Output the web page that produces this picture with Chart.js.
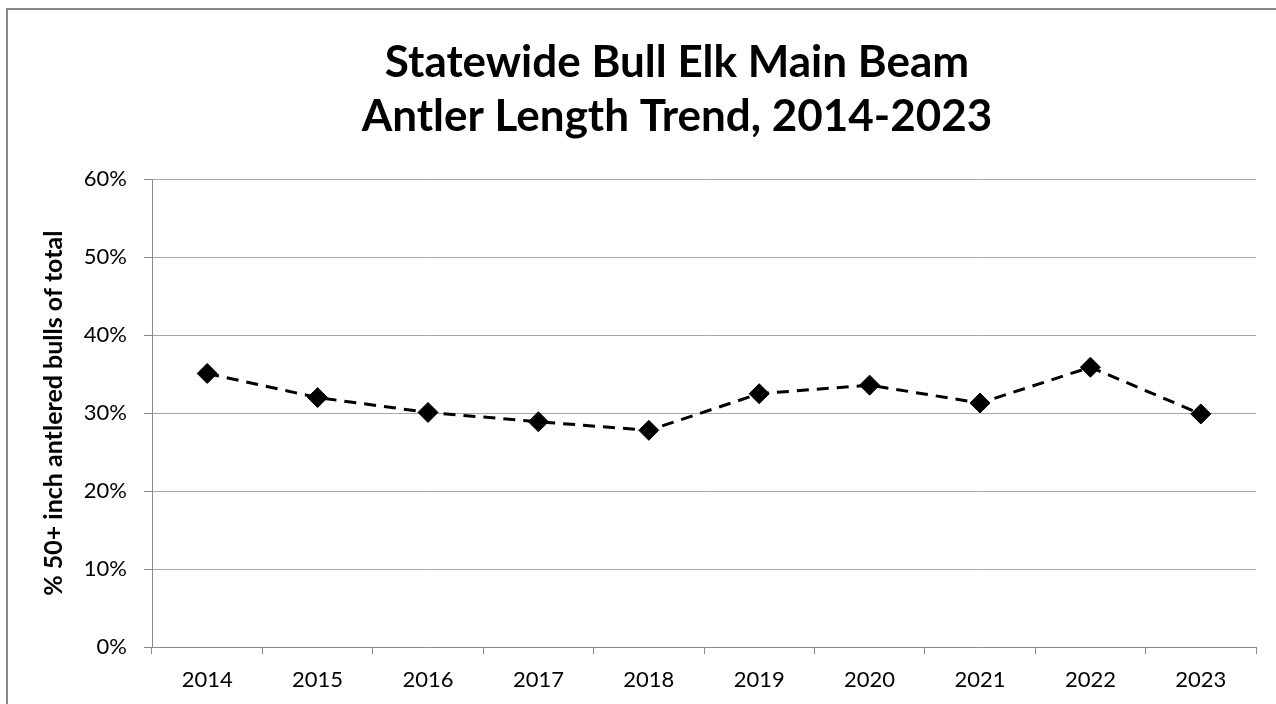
<!DOCTYPE html>
<html>
<head>
<meta charset="utf-8">
<script src="https://cdn.jsdelivr.net/npm/chart.js@4.4.1/dist/chart.umd.min.js"></script>
<style>
  html, body { margin: 0; padding: 0; background: #ffffff; overflow: hidden; }
  #wrap { width: 1276px; height: 704px; position: relative; }
</style>
</head>
<body>
<div id="wrap"><canvas id="c" width="1276" height="704"></canvas></div>
<script>
const years = ['2014', '2015', '2016', '2017', '2018', '2019', '2020', '2021', '2022', '2023'];
const pct50Plus = [0.351, 0.320, 0.301, 0.289, 0.278, 0.325, 0.336, 0.313, 0.359, 0.299];
const titleLines = ['Statewide Bull Elk Main Beam', 'Antler Length Trend, 2014-2023'];
const yAxisTitle = '% 50+ inch antlered bulls of total';
const yTickMin = 0, yTickMax = 0.6, yTickStep = 0.1;

const frame = {
  id: 'frame',
  beforeDraw(chart) {
    const ctx = chart.ctx;
    ctx.save();
    ctx.fillStyle = '#ffffff';
    ctx.fillRect(0, 0, chart.width, chart.height);
    ctx.strokeStyle = '#8a8a8a';
    ctx.lineWidth = 2;
    ctx.strokeRect(7, 9, chart.width + 20, chart.height + 20);
    ctx.restore();
  }
};

new Chart(document.getElementById('c'), {
  type: 'line',
  data: {
    labels: years,
    datasets: [{
      data: pct50Plus,
      yAxisID: 'y',
      borderColor: '#000000',
      borderWidth: 3,
      borderDash: [12, 8],
      tension: 0,
      fill: false,
      pointStyle: 'rectRot',
      pointRadius: 10,
      pointHoverRadius: 10,
      pointBackgroundColor: '#000000',
      pointBorderColor: '#000000',
      pointBorderWidth: 1
    }]
  },
  options: {
    responsive: false,
    animation: false,
    devicePixelRatio: 1,
    layout: { padding: { left: 20, right: -58, top: 0, bottom: 0 } },
    font: { family: 'Lato' },
    plugins: {
      legend: { display: false },
      tooltip: { enabled: false },
      title: {
        display: true,
        text: titleLines,
        color: '#000000',
        font: { family: 'Lato', size: 44, weight: 'bold', lineHeight: 1.243 },
        padding: { top: 35, bottom: 35 }
      }
    },
    scales: {
      x: {
        offset: true,
        grid: {
          offset: true,
          drawOnChartArea: false,
          drawTicks: true,
          tickLength: 7,
          tickColor: '#8a8a8a',
          tickWidth: 1
        },
        border: { color: '#8a8a8a', width: 1 },
        ticks: {
          color: '#000000',
          font: { family: 'Lato', size: 22 },
          padding: 13,
          maxRotation: 0,
          autoSkip: false
        },
        afterFit(scale) { scale.height = 57; }
      },
      y: {
        position: 'left',
        min: yTickMin,
        max: yTickMax,
        grid: {
          color: '#a6a6a6',
          lineWidth: 1,
          drawTicks: true,
          tickLength: 8,
          tickColor: '#8a8a8a'
        },
        border: { color: '#8a8a8a', width: 1 },
        ticks: {
          stepSize: yTickStep,
          color: '#000000',
          font: { family: 'Lato', size: 22 },
          padding: 17,
          callback: (v) => Math.round(v * 100) + '%'
        },
        title: {
          display: true,
          text: yAxisTitle,
          color: '#000000',
          font: { family: 'Lato', size: 25, weight: 'bold' },
          padding: { top: 19, bottom: 0 }
        },
        afterFit(scale) { scale.width = 132; }
      },
      yRightSpace: {
        type: 'linear',
        position: 'right',
        min: yTickMin,
        max: yTickMax,
        grid: { display: false, drawOnChartArea: false, drawTicks: false },
        border: { display: false },
        ticks: { display: false },
        afterFit(scale) { scale.width = 78; }
      }
    }
  },
  plugins: [frame]
});
</script>
</body>
</html>
